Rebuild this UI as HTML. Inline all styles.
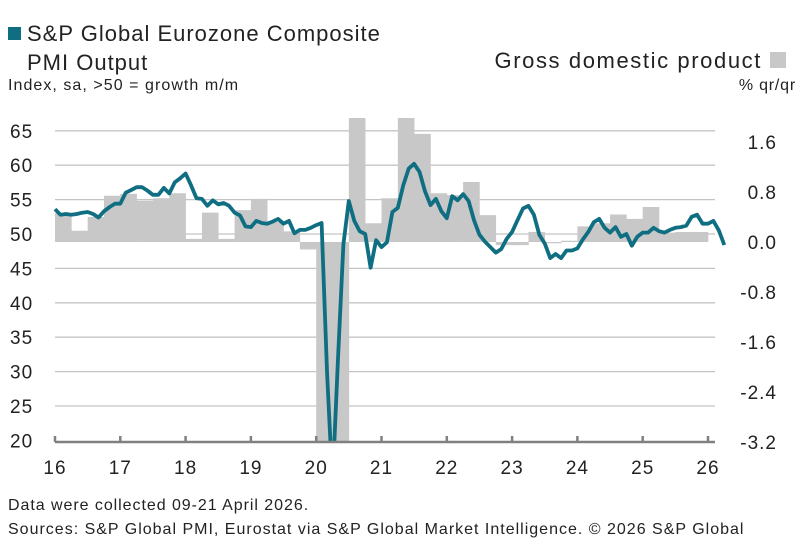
<!DOCTYPE html>
<html><head><meta charset="utf-8"><style>
html,body{margin:0;background:#fff;font-family:"Liberation Sans",sans-serif;overflow:hidden;}
#wrap{position:relative;width:804px;height:555px;overflow:hidden;}
.t{position:absolute;color:#222;white-space:nowrap;line-height:1.15;}
</style></head><body>
<div id="wrap">
<div class="t" style="left:8px;top:27px;width:13px;height:13px;background:#0f6e82"></div>
<div class="t" style="left:27px;top:19px;font-size:22px;line-height:29px;letter-spacing:1px;">S&amp;P Global Eurozone Composite<br>PMI Output</div>
<div class="t" style="left:8px;top:77px;font-size:16px;letter-spacing:1.05px;">Index, sa, &gt;50 = growth m/m</div>
<div class="t" style="right:42px;top:48px;font-size:22px;letter-spacing:1.6px;">Gross domestic product</div>
<div class="t" style="left:770px;top:52px;width:16px;height:16px;background:#c8c8c9"></div>
<div class="t" style="right:8px;top:77px;font-size:16px;letter-spacing:0.8px;">% qr/qr</div>
<svg id="svg" width="804" height="555" style="position:absolute;left:0;top:0"></svg>
<div class="t" style="left:8px;top:497px;font-size:16px;letter-spacing:0.95px;">Data were collected 09-21 April 2026.</div>
<div class="t" style="left:8px;top:521px;font-size:16px;letter-spacing:1.0px;">Sources: S&amp;P Global PMI, Eurostat via S&amp;P Global Market Intelligence. © 2026 S&amp;P Global</div>
</div>
<script>
const years=["16","17","18","19","20","21","22","23","24","25","26"];
const leftTicks=[20,25,30,35,40,45,50,55,60,65];
const rightTicks=["-3.2","-2.4","-1.6","-0.8","0.0","0.8","1.6"];
const gdp=[0.46,0.18,0.4,0.74,0.77,0.66,0.7,0.78,0.05,0.47,0.05,0.51,0.69,0.32,0.17,-0.12,-3.7,-11.7,12.5,0.3,0.7,2.1,1.73,0.78,0.75,0.96,0.43,-0.05,-0.05,0.16,-0.02,0.02,0.25,0.3,0.44,0.37,0.56,0.15,0.16,0.16];
const pmi=[53.6,52.8,52.9,52.8,52.9,53.1,53.2,52.9,52.4,53.3,53.9,54.4,54.4,56.0,56.4,56.8,56.8,56.3,55.7,55.7,56.7,55.9,57.5,58.1,58.8,57.1,55.2,55.1,54.1,54.9,54.3,54.5,54.1,53.1,52.7,51.1,51.0,51.9,51.6,51.5,51.8,52.2,51.5,51.9,50.1,50.6,50.6,50.9,51.3,51.6,29.7,13.6,31.9,48.5,54.8,51.9,50.4,50.0,45.1,49.1,48.1,48.8,53.2,53.8,57.1,59.5,60.2,59.0,56.2,54.2,55.1,53.3,52.3,55.5,54.9,55.8,54.8,52.0,49.9,48.9,48.1,47.3,47.8,49.3,50.3,52.0,53.7,54.1,52.8,49.9,48.6,46.5,47.1,46.5,47.6,47.6,47.9,49.2,50.3,51.7,52.2,50.9,50.2,51.0,49.6,50.0,48.3,49.6,50.2,50.2,50.9,50.4,50.2,50.6,50.9,51.0,51.2,52.5,52.8,51.5,51.5,51.9,50.5,48.4];
const NS="http://www.w3.org/2000/svg",svg=document.getElementById('svg');
const X0=55,YW=65.3,L=55,R=715,TOP=118,BOT=441;
const xYear=t=>X0+t*YW;
const yL=v=>234-(v-50)*6.88;
const yR=v=>242-v*62.5;
function mk(tag,at){const e=document.createElementNS(NS,tag);for(const k in at)e.setAttribute(k,at[k]);svg.appendChild(e);return e;}
leftTicks.forEach(v=>{
 if(v>20){const g=mk('line',{x1:L,x2:R,y1:yL(v),y2:yL(v),stroke:'#c4c4c4','stroke-width':1.3});
 
 }
 const t=mk('text',{x:10,y:yL(v)+7,'font-size':19,fill:'#222','font-family':'Liberation Sans','letter-spacing':1});t.textContent=v;
 
 
});
rightTicks.forEach(s=>{
 const t=mk('text',{x:777,y:yR(parseFloat(s))+7,'font-size':19,fill:'#222','text-anchor':'end','font-family':'Liberation Sans','letter-spacing':1});t.textContent=s;
 
 
});
const defs=mk('defs',{});const cp=document.createElementNS(NS,'clipPath');cp.setAttribute('id','c');
const cr=document.createElementNS(NS,'rect');cr.setAttribute('x',L-5);cr.setAttribute('y',TOP);cr.setAttribute('width',R-L+20);cr.setAttribute('height',BOT-TOP);cp.appendChild(cr);defs.appendChild(cp);
const gb=mk('g',{'clip-path':'url(#c)'});
gdp.forEach((v,i)=>{
 const x=xYear(i/4),w=YW/4;
 const y0=yR(0),y1=yR(v);
 const r=document.createElementNS(NS,'rect');
 r.setAttribute('x',x);r.setAttribute('width',w+0.3);
 r.setAttribute('y',Math.min(y0,y1));r.setAttribute('height',Math.abs(y1-y0));
 r.setAttribute('fill','#c8c8c9');
 
 
 gb.appendChild(r);
});
const pts=pmi.map((v,i)=>xYear(i/12).toFixed(1)+','+yL(v).toFixed(1)).join(' ');
const pl=document.createElementNS(NS,'polyline');
pl.setAttribute('points',pts);pl.setAttribute('fill','none');pl.setAttribute('stroke','#0f6e82');pl.setAttribute('stroke-width',3.8);pl.setAttribute('stroke-linejoin','round');


gb.appendChild(pl);
const ax=mk('line',{x1:L,x2:R,y1:BOT+1,y2:BOT+1,stroke:'#808080','stroke-width':2.5});


years.forEach((s,i)=>{
 const x=xYear(i);
 const tk=mk('line',{x1:x,x2:x,y1:BOT-5,y2:BOT+1,stroke:'#808080','stroke-width':2.5});
 
 
 const t=mk('text',{x:x,y:474,'font-size':19,fill:'#222','text-anchor':'middle','font-family':'Liberation Sans','letter-spacing':1});t.textContent=s;
 
 
});
</script>
</body></html>
